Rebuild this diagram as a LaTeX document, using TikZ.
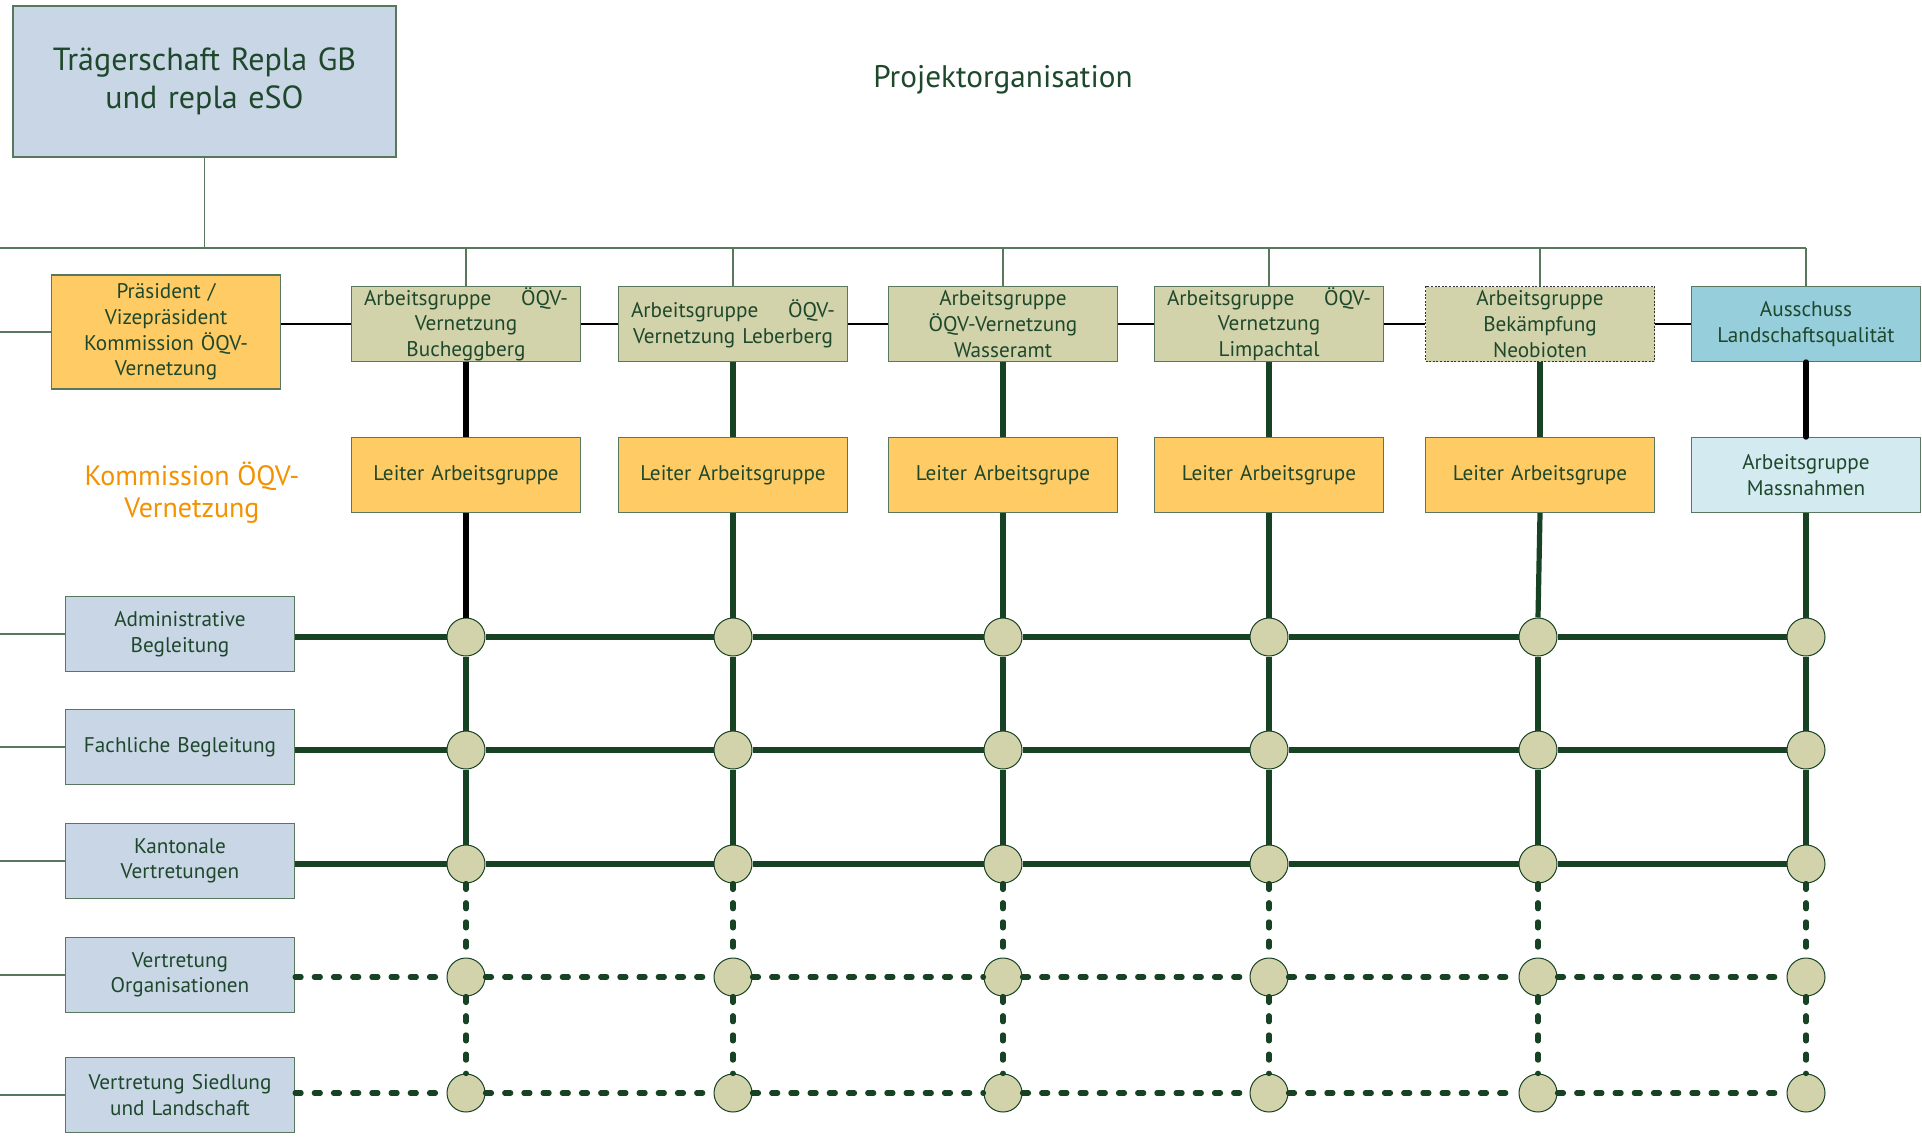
\documentclass[tikz,border=0pt]{standalone}
\usepackage{fontspec}
\setmainfont{PT Sans}
\usetikzlibrary{calc}
\definecolor{dgreen}{RGB}{24,66,36}
\definecolor{txtgreen}{RGB}{30,72,44}
\definecolor{boxline}{RGB}{88,120,94}
\definecolor{greyblue}{RGB}{201,214,229}
\definecolor{orangefill}{RGB}{255,203,101}
\definecolor{olivefill}{RGB}{210,211,171}
\definecolor{ausschussblue}{RGB}{150,206,220}
\definecolor{paleblue}{RGB}{211,234,240}
\definecolor{orangetxt}{RGB}{243,146,0}

\begin{document}
\begin{tikzpicture}[x=0.5pt, y=-0.5pt,
  box/.style={draw=boxline, line width=0.6pt, text=txtgreen, font=\fontsize{10.6}{12.8}\selectfont, align=center, inner sep=0pt, text width=102pt, minimum width=114.5pt, minimum height=37.5pt},
  dot/.style={circle, draw=dgreen, line width=0.5pt, fill=olivefill, inner sep=0pt, minimum size=19pt},
  thin/.style={boxline, line width=0.6pt},
  bar/.style={dgreen, line width=2.6pt},
  blackbar/.style={black, line width=2.8pt},
  dotbar/.style={dgreen, line width=2.6pt, line cap=round, dash pattern=on 3pt off 6.6pt}]
\useasboundingbox (0,0) rectangle (1922,1136);

\node[box, fill=greyblue, text width=180pt, minimum width=191.5pt, minimum height=75.5pt, font=\fontsize{16}{19}\selectfont] (top) at (204.5,81.5) {Trägerschaft Repla GB\\und repla eSO};
\node[text=txtgreen, font=\fontsize{15.6}{18}\selectfont] (title) at (1003,80) {Projektorganisation};
\coordinate (bus) at (0,248);

\node[box, fill=orangefill, minimum height=57pt] (pres) at (166,332) {Präsident /\\Vizepräsident\\Kommission ÖQV-\\Vernetzung};
\node[text=orangetxt, align=center, font=\fontsize{14}{16}\selectfont] (komm) at (192,493) {Kommission ÖQV-\\Vernetzung};

\node[box, fill=olivefill] (ag1) at (466,324) {Arbeitsgruppe\hfill ÖQV-\\Vernetzung\\Bucheggberg};
\node[box, fill=olivefill] (ag2) at (733,324) {Arbeitsgruppe\hfill ÖQV-\\Vernetzung Leberberg};
\node[box, fill=olivefill] (ag3) at (1003,324) {Arbeitsgruppe\\ÖQV-Vernetzung\\Wasseramt};
\node[box, fill=olivefill] (ag4) at (1269,324) {Arbeitsgruppe\hfill ÖQV-\\Vernetzung\\Limpachtal};
\node[box, fill=olivefill, draw=black!80, dash pattern=on 1pt off 0.8pt] (ag5) at (1540,324) {Arbeitsgruppe\\Bekämpfung\\Neobioten};
\node[box, fill=ausschussblue] (ag6) at (1806,324) {Ausschuss\\Landschaftsqualität};

\node[box, fill=orangefill] (lt1) at (466,475) {Leiter Arbeitsgruppe};
\node[box, fill=orangefill] (lt2) at (733,475) {Leiter Arbeitsgruppe};
\node[box, fill=orangefill] (lt3) at (1003,475) {Leiter Arbeitsgrupe};
\node[box, fill=orangefill] (lt4) at (1269,475) {Leiter Arbeitsgrupe};
\node[box, fill=orangefill] (lt5) at (1540,475) {Leiter Arbeitsgrupe};
\node[box, fill=paleblue] (lt6) at (1806,475) {Arbeitsgruppe\\Massnahmen};

\node[box, fill=greyblue] (b1) at (180,634) {Administrative\\Begleitung};
\node[box, fill=greyblue] (b2) at (180,747) {Fachliche Begleitung};
\node[box, fill=greyblue] (b3) at (180,861) {Kantonale\\Vertretungen};
\node[box, fill=greyblue] (b4) at (180,975) {Vertretung\\Organisationen};
\node[box, fill=greyblue] (b5) at (180,1095) {Vertretung Siedlung\\und Landschaft};

\foreach \i/\x in {1/466,2/733,3/1003,4/1269,5/1538,6/1806}
  \foreach \j/\y in {1/637,2/750,3/864,4/977,5/1093}
    \node[dot] (c\i\j) at (\x,\y) {};

\draw[thin] (top.south) -- (top.south |- bus);
\draw[thin] (bus) -- (bus -| ag6.north);
\foreach \i in {1,...,6} \draw[thin] (ag\i.north |- bus) -- (ag\i.north);
\draw[thin] (pres.west -| bus) -- (pres.west);
\foreach \j in {1,...,5} \draw[thin] (b\j.west -| bus) -- (b\j.west);
\draw[black, line width=0.6pt] (pres.east |- ag1.west) -- (ag1.west);
\foreach \i [evaluate=\i as \k using int(\i+1)] in {1,...,5} \draw[black, line width=0.6pt] (ag\i.east) -- (ag\k.west);

\foreach \i in {2,3,4,5} \draw[bar] (ag\i.south) -- (lt\i.north);
\draw[blackbar] (ag1.south) -- (lt1.north);
\draw[blackbar, line cap=round] (ag6.south) -- (lt6.north);
\draw[blackbar] (lt1.south) -- (c11.north);
\foreach \i in {2,...,6} \draw[bar] (lt\i.south) -- (c\i1.north);

\foreach \i in {1,...,6} {
  \draw[bar] (c\i1.south) -- (c\i2.north);
  \draw[bar] (c\i2.south) -- (c\i3.north);
  \draw[dotbar] (c\i3.south) -- (c\i4.north);
  \draw[dotbar] (c\i4.south) -- (c\i5.north);
}
\foreach \j in {1,2,3} \draw[bar] (b\j.east |- c1\j) -- (c1\j.west);
\foreach \j in {4,5} \draw[dotbar] (b\j.east |- c1\j) -- (c1\j.west);
\foreach \i [evaluate=\i as \k using int(\i+1)] in {1,...,5} {
  \draw[bar] (c\i1.east) -- (c\k1.west);
  \draw[bar] (c\i2.east) -- (c\k2.west);
  \draw[bar] (c\i3.east) -- (c\k3.west);
  \draw[dotbar] (c\i4.east) -- (c\k4.west);
  \draw[dotbar] (c\i5.east) -- (c\k5.west);
}

\end{tikzpicture}
\end{document}
